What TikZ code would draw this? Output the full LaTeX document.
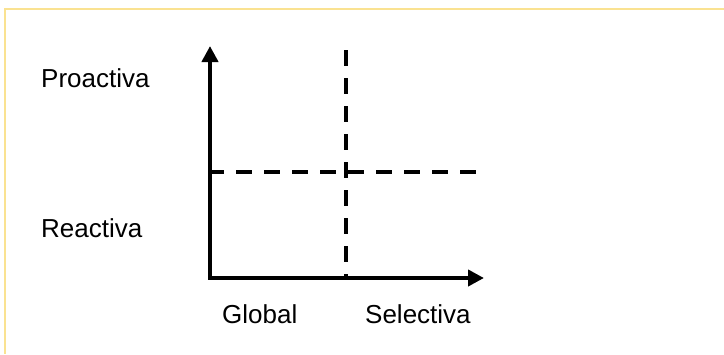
\documentclass[tikz,border=0pt]{standalone}
\usepackage{fontspec}
\setmainfont{Liberation Sans}
\usetikzlibrary{arrows.meta}
\definecolor{framecol}{RGB}{250,226,145}
\begin{document}
\begin{tikzpicture}[x=1pt,y=-1pt,
  axis/.style={line width=4pt, line cap=butt, -{Triangle[length=16pt,width=16pt]}},
  dashline/.style={line width=3.5pt, dash pattern=on 16pt off 12pt},
  lbl/.style={anchor=base west, inner sep=0pt, font=\fontsize{26}{30}\selectfont},
  frame/.style={draw=framecol, line width=1.3pt}]
\useasboundingbox (0,0) rectangle (724,354);
\fill[white] (0,0) rectangle (724,354);
\draw[frame] (5,354) -- (5,9) -- (724,9);
% coordinates
\coordinate (O) at (210,278);
\coordinate (ytip) at (210,46);
\coordinate (xtip) at (484,278);
\coordinate (vtop) at (346,50);
\coordinate (vbot) at (346,278);
\coordinate (hleft) at (208,172);
\coordinate (hright) at (476,172);
% dashed lines
\draw[dashline] (vtop) -- (vbot);
\draw[dashline] (hleft) -- (hright);
% axes
\draw[axis] ([yshift=2pt]O) -- (ytip);
\draw[axis] ([xshift=-2pt]O) -- (xtip);
% labels
\node[lbl] (pro) at (41,87) {Proactiva};
\node[lbl] (rea) at (41,237) {Reactiva};
\node[lbl] (glo) at (222,323) {Global};
\node[lbl] (sel) at (365,323) {Selectiva};
\end{tikzpicture}
\end{document}
